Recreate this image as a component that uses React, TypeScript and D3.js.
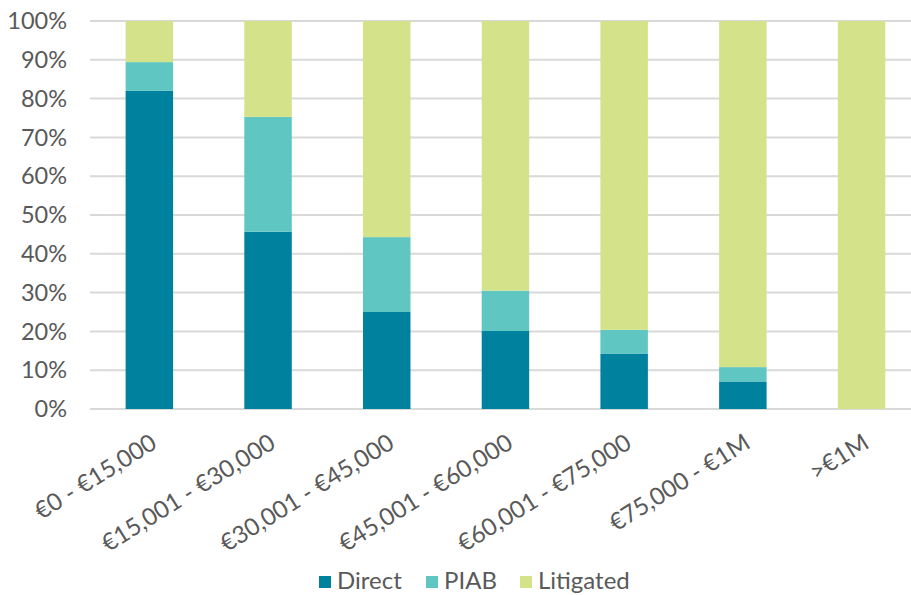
import React from 'react';
import * as d3 from 'd3';

const categories = ['€0 - €15,000', '€15,001 - €30,000', '€30,001 - €45,000', '€45,001 - €60,000', '€60,001 - €75,000', '€75,000 - €1M', '>€1M'];
const seriesNames = ['Direct', 'PIAB', 'Litigated'];
const direct = [82.0, 45.7, 25.0, 20.1, 14.3, 7.1, 0];
const piab = [7.4, 29.6, 19.3, 10.4, 6.1, 3.7, 0];
const litigated = [10.6, 24.7, 55.7, 69.5, 79.6, 89.2, 100];
const yTicks = [0, 10, 20, 30, 40, 50, 60, 70, 80, 90, 100];
const colors = ['#00829f', '#5fc6c1', '#d4e38a'];

const W = 911;
const H = 595;
const FONT = 'Lato, "Open Sans", sans-serif';

export default function App() {
    const margin = { left: 90, top: 21, bottom: 186 };
    const step = 118.7;
    const x = d3.scaleBand<string>()
        .domain(categories)
        .range([margin.left, margin.left + step * categories.length])
        .paddingInner(0.6)
        .paddingOuter(0.3);
    const y = d3.scaleLinear().domain([0, 100]).range([H - margin.bottom, margin.top]);

    const rows = categories.map((c, i) => ({ cat: c, Direct: direct[i], PIAB: piab[i], Litigated: litigated[i] }));
    const stacked = d3.stack<any>().keys(seriesNames)(rows);

    const legendX = [319, 426, 520];

    return (
        <svg width={W} height={H} style={{ position: 'absolute', left: 0, top: 0, background: '#fff' }} fontFamily={FONT}>
            {yTicks.map((t) => (
                <g key={t}>
                    <line x1={margin.left} x2={W} y1={y(t)} y2={y(t)} stroke="#d9d9d9" strokeWidth={2} />
                    <text x={67} y={y(t)} dy="0.35em" textAnchor="end" fontSize={23.5} fill="#595959">{t}%</text>
                </g>
            ))}
            {stacked.map((s, si) => (
                <g key={s.key} fill={colors[si]}>
                    {s.map((d, i) => {
                        const h = y(d[0]) - y(d[1]);
                        if (h <= 0) return null;
                        return <rect key={i} x={x(categories[i])} y={y(d[1])} width={x.bandwidth()} height={h} />;
                    })}
                </g>
            ))}
            {categories.map((c) => {
                const cx = (x(c) ?? 0) + x.bandwidth() / 2;
                return (
                    <text key={c} transform={`translate(${cx + 9},${y(0) + 38}) rotate(-32)`} textAnchor="end" fontSize={24} fill="#595959">
                        {c}
                    </text>
                );
            })}
            {seriesNames.map((n, i) => (
                <g key={n} transform={`translate(${legendX[i]},0)`}>
                    <rect x={0} y={576} width={12} height={12} fill={colors[i]} />
                    <text x={18} y={589} fontSize={24} fill="#595959">{n}</text>
                </g>
            ))}
        </svg>
    );
}
